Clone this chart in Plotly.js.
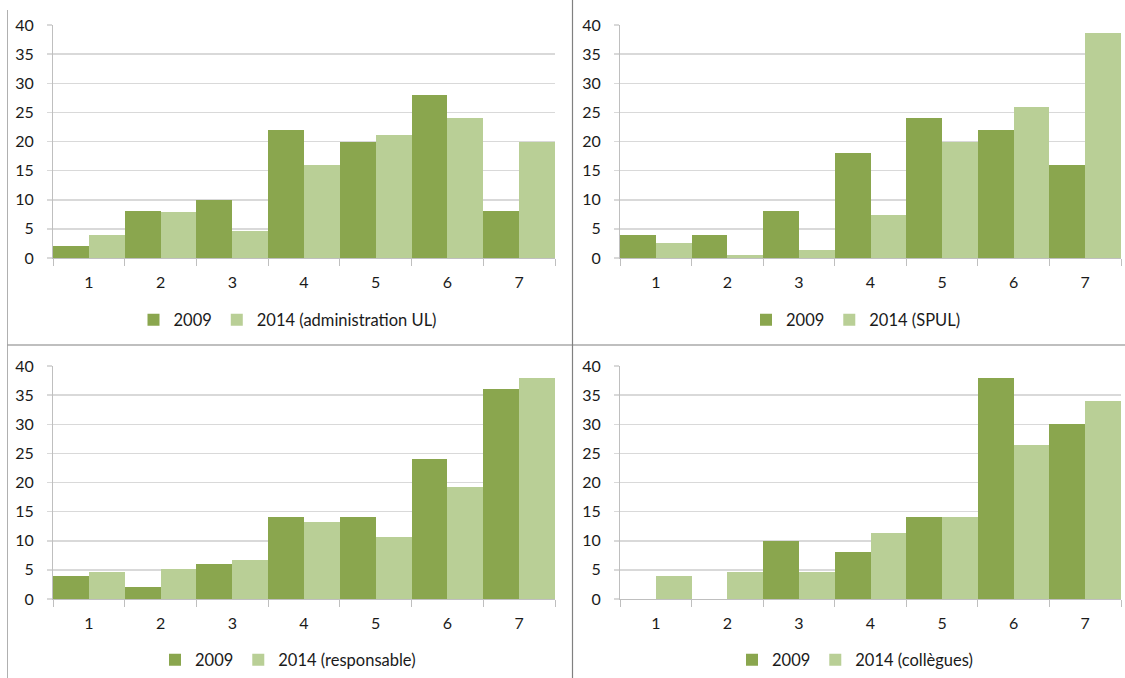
<!DOCTYPE html>
<html>
<head>
<meta charset="utf-8">
<script src="https://cdn.plot.ly/plotly-3.0.1.min.js"></script>
<style>
  html, body { margin: 0; padding: 0; background: #fff; }
  #chart { width: 1125px; height: 678px; }
</style>
</head>
<body>
<div id="chart"></div>
<script>
// Response categories on the 1–7 scale
const categories = ['1', '2', '3', '4', '5', '6', '7'];

// Series names per panel
const series2009Name = '2009';
const adminName = '2014 (administration UL)';
const spulName = '2014 (SPUL)';
const respName = '2014 (responsable)';
const collName = '2014 (collègues)';

// Percentages per panel
const admin2009 = [2, 8, 10, 22, 20, 28, 8];
const admin2014 = [4, 7.9, 4.6, 16, 21.2, 24, 20];
const spul2009 = [4, 4, 8, 18, 24, 22, 16];
const spul2014 = [2.6, 0.6, 1.3, 7.4, 20, 26, 38.6];
const resp2009 = [4, 2, 6, 14, 14, 24, 36];
const resp2014 = [4.6, 5.2, 6.7, 13.3, 10.6, 19.3, 38];
const coll2009 = [0, 0, 10, 8, 14, 38, 30];
const coll2014 = [4, 4.6, 4.6, 11.3, 14, 26.5, 34];

const DARK = '#8aa64e';
const LIGHT = '#b9cf96';
const W = 1125, H = 678;

const panels = [
  { a: '', lg: 'legend',  d: admin2009, l: admin2014, n: adminName },
  { a: '2', lg: 'legend2', d: spul2009,  l: spul2014,  n: spulName },
  { a: '3', lg: 'legend3', d: resp2009,  l: resp2014,  n: respName },
  { a: '4', lg: 'legend4', d: coll2009,  l: coll2014,  n: collName }
];

const traces = [];
panels.forEach(p => {
  traces.push({
    type: 'bar', x: categories, y: p.d, name: series2009Name,
    xaxis: 'x' + p.a, yaxis: 'y' + p.a, legend: p.lg,
    marker: { color: DARK, line: { width: 0 } }, hoverinfo: 'x+y+name'
  });
  traces.push({
    type: 'bar', x: categories, y: p.l, name: p.n,
    xaxis: 'x' + p.a, yaxis: 'y' + p.a, legend: p.lg,
    marker: { color: LIGHT, line: { width: 0 } }, hoverinfo: 'x+y+name'
  });
});

const font = { family: 'Lato, "Open Sans", sans-serif', size: 16, color: '#1a1a1a' };
const legendFont = { family: 'Lato, "Open Sans", sans-serif', size: 16.5, color: '#1a1a1a' };

function px(x) { return x / W; }
function py(y) { return 1 - y / H; }

function xAxis(x0, x1, anchor) {
  return {
    domain: [px(x0), px(x1)], anchor: anchor, type: 'category',
    range: [-0.5, 6.5], tickson: 'boundaries', ticks: 'outside', ticklen: 7,
    tickcolor: '#bfbfbf', tickwidth: 1, showgrid: false, showline: true,
    linecolor: '#bfbfbf', linewidth: 1, zeroline: false, fixedrange: true,
    ticklabelstandoff: 10, tickfont: font
  };
}
function yAxis(y0, y1, anchor) {
  return {
    domain: [py(y1), py(y0)], anchor: anchor, range: [0, 40], dtick: 5,
    ticks: 'outside', ticklen: 5, tickcolor: '#d9d9d9', tickwidth: 1.5,
    showgrid: true, gridcolor: '#d9d9d9', gridwidth: 1.5,
    showline: true, linecolor: '#bfbfbf', linewidth: 1, zeroline: false,
    fixedrange: true, ticklabelstandoff: 10, tickfont: font
  };
}
function legendAt(cx, cy) {
  return {
    orientation: 'h', x: px(cx), y: py(cy), xanchor: 'center', yanchor: 'middle',
    font: legendFont, itemwidth: 30, bgcolor: 'rgba(0,0,0,0)', traceorder: 'normal'
  };
}

const lineGray = '#808080';
const layout = {
  width: W, height: H,
  margin: { l: 0, r: 0, t: 0, b: 0 },
  paper_bgcolor: '#ffffff', plot_bgcolor: '#ffffff',
  font: font,
  barmode: 'group', bargap: 0, bargroupgap: 0,
  xaxis: xAxis(53, 555, 'y'),   yaxis: yAxis(25, 258, 'x'),
  xaxis2: xAxis(620, 1121, 'y2'), yaxis2: yAxis(25, 258, 'x2'),
  xaxis3: xAxis(53, 555, 'y3'), yaxis3: yAxis(366, 599, 'x3'),
  xaxis4: xAxis(620, 1121, 'y4'), yaxis4: yAxis(366, 599, 'x4'),
  legend: legendAt(288, 320),
  legend2: legendAt(856, 320),
  legend3: legendAt(288, 660),
  legend4: legendAt(855, 660),
  shapes: [
    { type: 'line', xref: 'paper', yref: 'paper', x0: px(7.5), x1: px(7.5), y0: py(10), y1: 0,
      line: { color: '#b0b0b0', width: 1 } },
    { type: 'line', xref: 'paper', yref: 'paper', x0: px(572.5), x1: px(572.5), y0: 1, y1: 0,
      line: { color: lineGray, width: 1.2 } },
    { type: 'line', xref: 'paper', yref: 'paper', x0: px(7.5), x1: 1, y0: py(345), y1: py(345),
      line: { color: lineGray, width: 1.2 } }
  ]
};

Plotly.newPlot('chart', traces, layout, { displayModeBar: false, staticPlot: true });
</script>
</body>
</html>
